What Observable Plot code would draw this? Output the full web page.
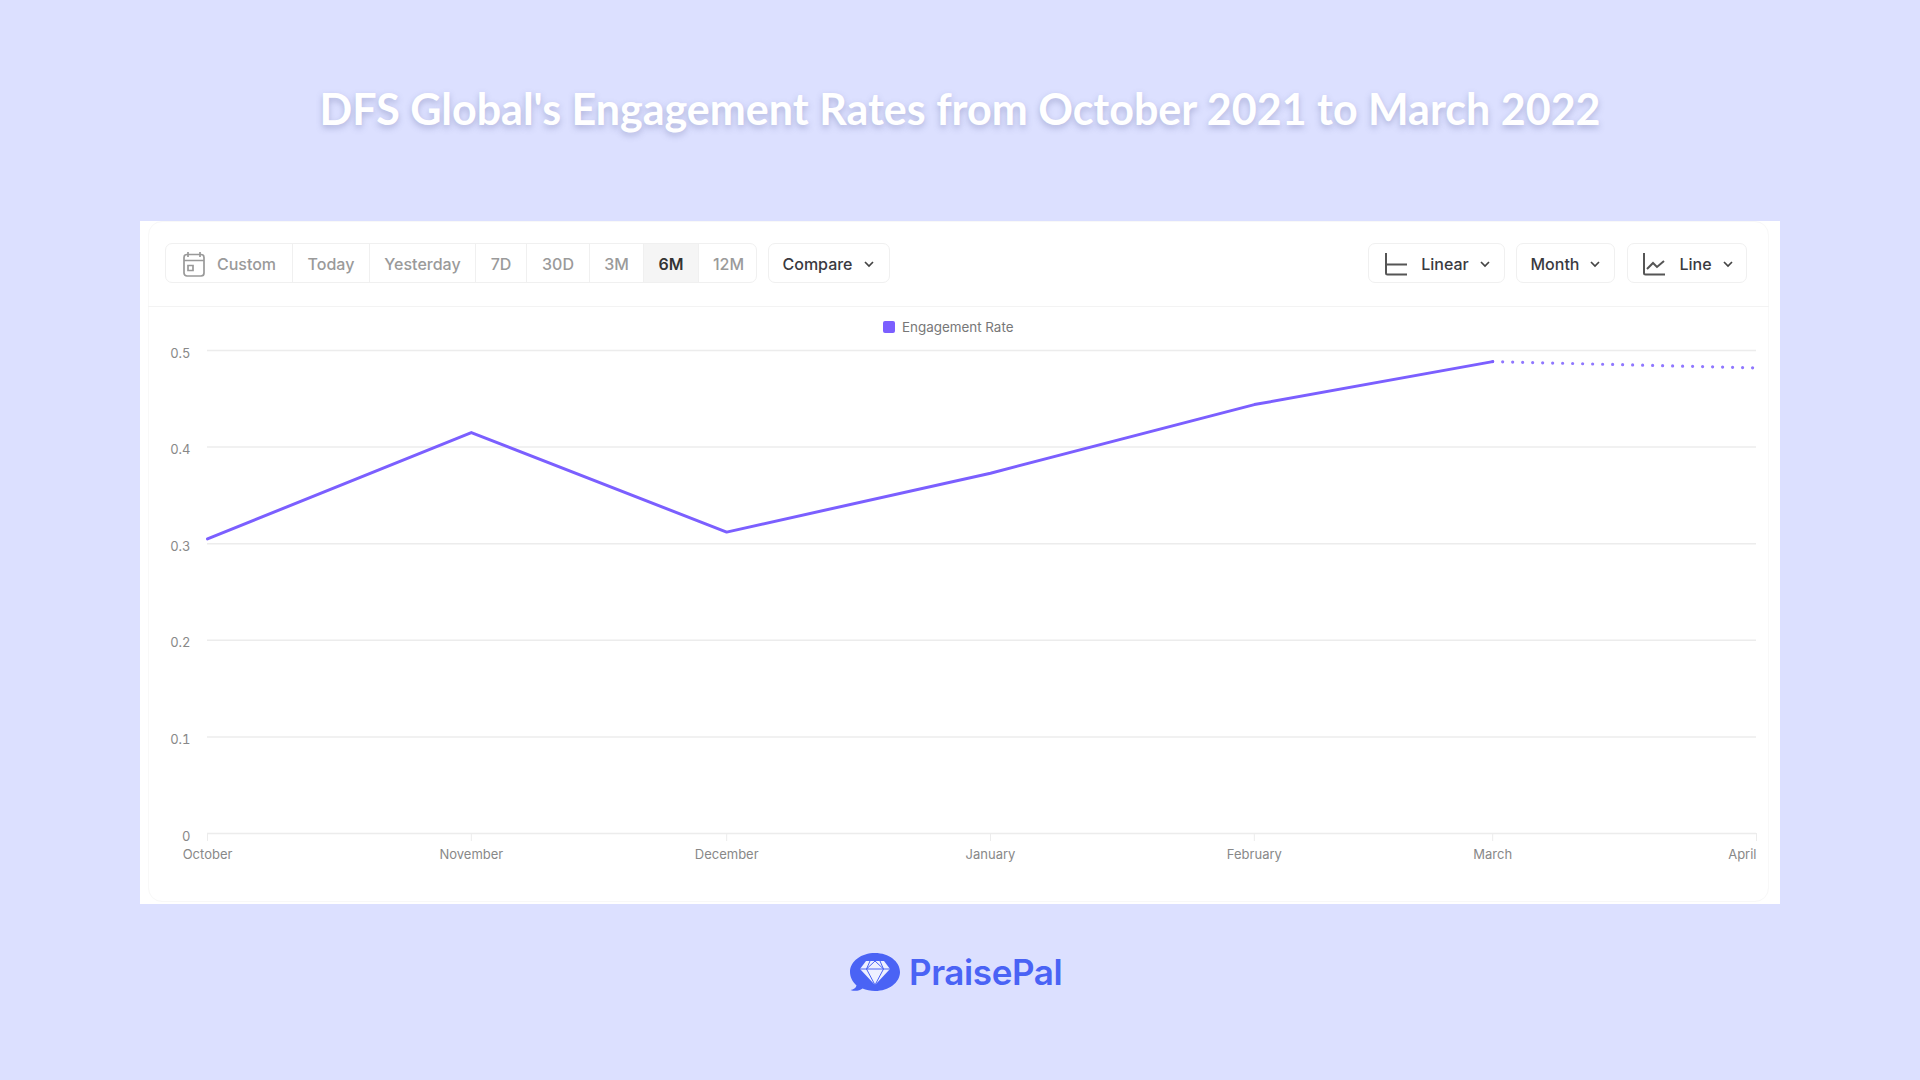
<!DOCTYPE html>
<html>
<head>
<meta charset="utf-8">
<script src="https://cdn.jsdelivr.net/npm/d3@7"></script>
<script src="https://cdn.jsdelivr.net/npm/@observablehq/plot@0.6"></script>
<style>
html,body{margin:0;padding:0;background:#dce0ff;}
#page{position:relative;width:1920px;height:1080px;overflow:hidden;background:#dce0ff;font-family:Inter,sans-serif;}
#title{position:absolute;left:0;width:1920px;top:84px;text-align:center;font:700 43px/50px Lato,sans-serif;color:#fff;text-shadow:0 3px 6px rgba(90,95,150,.35);margin:0;}
#card{position:absolute;left:140px;top:221px;width:1640px;height:683px;background:#fff;}
#inner{position:absolute;width:1621px;height:681px;border:1px solid #f8f8f8;border-radius:14px;box-sizing:border-box;}
#divider{position:absolute;left:148px;top:306px;width:1621px;height:1px;background:#f3f3f3;}
.grp{position:absolute;top:243px;height:40px;padding-top:1px;border:1px solid #f0f0f0;border-radius:7px;box-sizing:border-box;display:flex;align-items:center;justify-content:center;background:#fff;font-size:16px;font-weight:500;color:#3a3a3f;gap:9px;}
#range{left:165px;width:592px;overflow:hidden;justify-content:flex-start;gap:0;padding-top:0;color:#9a9a9a;}
#range span{display:flex;align-items:center;justify-content:center;height:100%;padding-top:1px;border-right:1px solid #f0f0f0;box-sizing:border-box;flex:none;}
#range span.on{background:#f5f5f5;color:#333;font-weight:600;}
#range span:last-child{border-right:none;}
#legend{position:absolute;left:883px;top:317px;height:20px;display:flex;align-items:center;font-size:13.4px;color:#777;}
#legend i{display:block;width:12px;height:12px;border-radius:2px;background:#7b5fff;margin-right:7px;}
#plot{position:absolute;left:140px;top:330px;}
#plot svg{display:block;background:transparent;overflow:visible;}
#logo{position:absolute;left:850px;top:950px;height:44px;display:flex;align-items:center;}
#logo b{position:absolute;left:59px;top:0;font:600 35px/44px Inter,sans-serif;color:#4a63f5;letter-spacing:-.4px;}
</style>
</head>
<body>
<div id="page">
  <h1 id="title"></h1>
  <div id="card"></div>
  <div id="inner" style="left:148px;top:221px;"></div>
  <div id="divider"></div>
  <div class="grp" id="range"></div>
  <div class="grp" style="left:768px;width:122px;">Compare <svg width="14" height="14" viewBox="0 0 14 14"><path d="M3 5l4 4 4-4" fill="none" stroke="#444" stroke-width="1.700"/></svg></div>
  <div class="grp" style="left:1368px;width:137px;padding-left:3px;"><svg width="24" height="24" viewBox="0 0 24 24" style="margin-right:4px"><path d="M2 1v20a1.500 1.500 0 0 0 1.500 1.500H23M3 12.500h20" fill="none" stroke="#555" stroke-width="2"/></svg>Linear <svg width="14" height="14" viewBox="0 0 14 14"><path d="M3 5l4 4 4-4" fill="none" stroke="#444" stroke-width="1.700"/></svg></div>
  <div class="grp" style="left:1516px;width:99px;padding-left:2px;">Month <svg width="14" height="14" viewBox="0 0 14 14"><path d="M3 5l4 4 4-4" fill="none" stroke="#444" stroke-width="1.700"/></svg></div>
  <div class="grp" style="left:1627px;width:120px;padding-left:3px;"><svg width="24" height="24" viewBox="0 0 24 24" style="margin-right:4px"><path d="M2 1v20a1.500 1.500 0 0 0 1.500 1.500H23M5 17l6-6 4 4 7-6" fill="none" stroke="#555" stroke-width="2"/></svg>Line <svg width="14" height="14" viewBox="0 0 14 14"><path d="M3 5l4 4 4-4" fill="none" stroke="#444" stroke-width="1.700"/></svg></div>
  <div id="legend"><i></i><span id="legendText"></span></div>
  <div id="plot"></div>
  <div id="logo">
    <svg width="50" height="44" viewBox="0 0 50 44">
      <path d="M25 3C11.500 3 0 11 0 22c0 5 2.500 10 6.500 13.500C6 38 3.500 39.500 .500 40c4 1.500 9 1 12-1.500 3.500 1.500 8 2.500 12.500 2.500 13.800 0 25-8.500 25-19S38.800 3 25 3z" fill="#4a63f5"/>
      <path d="M16 11h18l6 8L25 35 10 19z" fill="#eef0ff"/>
      <path d="M10 19h30M20 11l-3.500 8L25 35l8.500-16L30 11M25 11l-8.500 8M25 11l8.500 8" fill="none" stroke="#4a63f5" stroke-width="1"/>
    </svg>
    <b id="brandName"></b>
  </div>
</div>
<script>
const chartTitle = "DFS Global's Engagement Rates from October 2021 to March 2022";
const seriesName = "Engagement Rate";
const brand = "PraisePal";
const rangeLabels = ["Custom", "Today", "Yesterday", "7D", "30D", "3M", "6M", "12M"];
const rangeWidths = [127, 77, 106, 51, 63, 54, 55, 59];
const activeRange = "6M";

const monthDates = ["2021-10-01","2021-11-01","2021-12-01","2022-01-01","2022-02-01","2022-03-01","2022-04-01"].map(d => new Date(d));
const monthLabels = ["October","November","December","January","February","March","April"];
const engagement = [0.305, 0.415, 0.312, 0.373, 0.444, 0.4885, 0.482];
const yTicks = [0, 0.1, 0.2, 0.3, 0.4, 0.5];

const rows = monthDates.map((date, i) => ({date, label: monthLabels[i], value: engagement[i]}));
const complete = rows.slice(0, 6);
const partial = rows.slice(5);
const lastRow = rows.slice(-1);

document.getElementById("title").textContent = chartTitle;
document.getElementById("legendText").textContent = seriesName;
document.getElementById("brandName").textContent = brand;

const range = document.getElementById("range");
rangeLabels.forEach((label, i) => {
  const s = document.createElement("span");
  s.style.width = rangeWidths[i] + "px";
  if (label === "Custom") {
    s.innerHTML = '<svg width="24" height="26" viewBox="0 0 24 26" style="margin-right:11px"><path d="M6 1v5M18 1v5M2 9.500h20M5 3.500h14a3 3 0 0 1 3 3V22a3 3 0 0 1-3 3H5a3 3 0 0 1-3-3V6.500a3 3 0 0 1 3-3zM6 14.500h5v5H6z" fill="none" stroke="#999" stroke-width="1.700"/></svg>' + label;
  } else s.textContent = label;
  if (label === activeRange) s.className = "on";
  range.appendChild(s);
});

const chart = Plot.plot({
  width: 1640,
  height: 550,
  marginLeft: 67,
  marginRight: 24,
  marginTop: 20,
  marginBottom: 47,
  style: {fontFamily: "Inter, sans-serif", fontSize: "13px", color: "#888", background: "transparent"},
  x: {type: "utc", domain: [monthDates[0], monthDates[6]], label: null},
  y: {domain: [0, 0.5], label: null},
  marks: [
    Plot.ruleY(yTicks, {stroke: "#ececec", strokeWidth: 1.500, strokeOpacity: 1}),
    Plot.axisY({ticks: yTicks, tickSize: 0, tickPadding: 17, dy: 3, label: null, tickFormat: d => d === 0 ? "0" : String(d), fill: "#888", fontSize: 13}),
    Plot.axisX({ticks: monthDates, tickSize: 8, tickPadding: 8, label: null, stroke: "#ececec", strokeOpacity: 1, fill: "#888", fontSize: 13,
      tickFormat: d => { const i = monthDates.findIndex(m => +m === +d); return i === 6 ? "" : monthLabels[i]; }}),
    Plot.text(lastRow, {x: "date", text: "label", frameAnchor: "bottom", textAnchor: "end", lineAnchor: "middle", dy: 21, fill: "#888", fontSize: 13}),
    Plot.line(complete, {x: "date", y: "value", stroke: "#7b5fff", strokeWidth: 3, curve: "linear"}),
    Plot.line(partial, {x: "date", y: "value", stroke: "#7b5fff", strokeOpacity: 0.85, strokeWidth: 3.200, strokeDasharray: "0 10", strokeLinecap: "round", curve: "linear"})
  ]
});
document.getElementById("plot").appendChild(chart);
</script>
</body>
</html>
